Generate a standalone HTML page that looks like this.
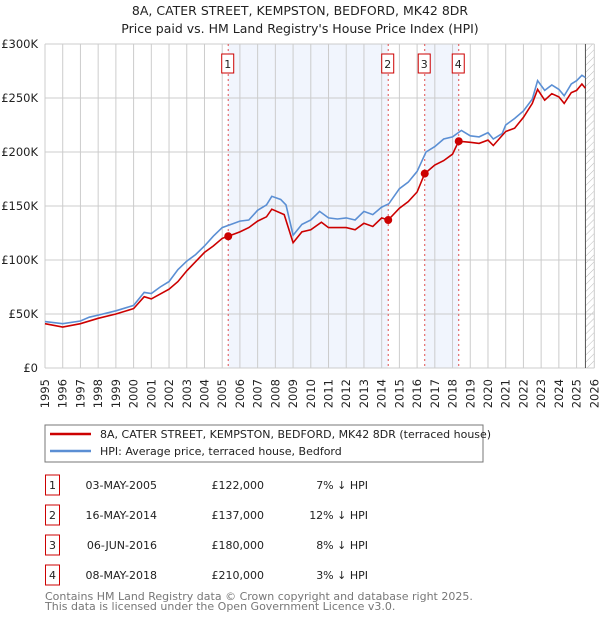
<!DOCTYPE html>
<html><head><meta charset="utf-8"><style>
body{margin:0;background:#fff;font-family:"Liberation Sans","DejaVu Sans",sans-serif;}
svg text{font-family:"DejaVu Sans","Liberation Sans",sans-serif;}
</style></head><body>
<svg id="chart" width="600" height="620" xmlns="http://www.w3.org/2000/svg">
<defs><pattern id="hatch" width="5" height="5" patternUnits="userSpaceOnUse" patternTransform="rotate(45)"><line x1="0" y1="0" x2="0" y2="5" stroke="#bbb" stroke-width="1"/></pattern></defs>
<text x="300" y="15" text-anchor="middle" font-size="12.5" fill="#222">8A, CATER STREET, KEMPSTON, BEDFORD, MK42 8DR</text>
<text x="300" y="33" text-anchor="middle" font-size="12.5" fill="#222">Price paid vs. HM Land Registry's House Price Index (HPI)</text>
<g id="plot"></g>
<rect x="45" y="425" width="438" height="37" fill="#fff" stroke="#777"/>
<line x1="50" y1="434" x2="91" y2="434" stroke="#cc0000" stroke-width="2.5"/>
<text x="100" y="438" font-size="11" fill="#222">8A, CATER STREET, KEMPSTON, BEDFORD, MK42 8DR (terraced house)</text>
<line x1="50" y1="451" x2="91" y2="451" stroke="#5b8fd4" stroke-width="2.5"/>
<text x="100" y="455" font-size="11" fill="#222">HPI: Average price, terraced house, Bedford</text>
<g id="table"></g>
<text x="45" y="600" font-size="11" fill="#777">Contains HM Land Registry data © Crown copyright and database right 2025.</text>
<text x="45" y="610" font-size="11" fill="#777">This data is licensed under the Open Government Licence v3.0.</text>
</svg>
<script>
const hpiYears=[1995,1996,1997,1997.5,1998,1999,2000,2000.6,2001,2001.5,2002,2002.5,2003,2003.5,2004,2004.5,2005,2005.5,2006,2006.5,2007,2007.5,2007.8,2008.3,2008.6,2009,2009.5,2010,2010.5,2011,2011.5,2012,2012.5,2013,2013.5,2014,2014.4,2015,2015.5,2016,2016.5,2017,2017.5,2018,2018.5,2019,2019.5,2020,2020.3,2020.8,2021,2021.5,2022,2022.5,2022.8,2023.2,2023.6,2024,2024.3,2024.7,2025,2025.3,2025.5];
const hpiValues=[43,41,43.5,47,49,53,58,70,69,75,80,91,99,105,113,122,130,133,136,137,146,151,159,156,151,123,133,137,145,139,138,139,137,145,142,149,152,166,172,182,200,205,212,214,220,215,214,218,212,217,225,231,238,249,266,257,262,258,252,263,266,271,269];
const ppYears=[1995,1996,1997,1998,1999,2000,2000.6,2001,2002,2002.5,2003,2004,2004.5,2005,2005.34,2006,2006.5,2007,2007.5,2007.8,2008.5,2009,2009.5,2010,2010.6,2011,2012,2012.5,2013,2013.5,2014,2014.37,2015,2015.5,2016,2016.43,2017,2017.5,2018,2018.35,2019,2019.5,2020,2020.3,2021,2021.5,2022,2022.5,2022.8,2023.2,2023.6,2024,2024.3,2024.7,2025,2025.3,2025.5];
const ppValues=[41,38,41,46,50,55,66,64,73,80,90,107,113,120,122,126,130,136,140,147,142,116,126,128,135,130,130,128,134,131,139,137,148,154,163,180,188,192,198,210,209,208,211,206,219,222,232,245,258,248,254,251,245,255,257,263,259];
const saleLabels=["1","2","3","4"];
const saleYears=[2005.34,2014.37,2016.43,2018.35];
const salePrices=[122,137,180,210];
const saleDates=["03-MAY-2005","16-MAY-2014","06-JUN-2016","08-MAY-2018"];
const salePriceText=["£122,000","£137,000","£180,000","£210,000"];
const saleHpiText=["7% ↓ HPI","12% ↓ HPI","8% ↓ HPI","3% ↓ HPI"];
const yTicks=[0,50,100,150,200,250,300];
const yTickLabels=["£0","£50K","£100K","£150K","£200K","£250K","£300K"];
const xTicks=[1995,1996,1997,1998,1999,2000,2001,2002,2003,2004,2005,2006,2007,2008,2009,2010,2011,2012,2013,2014,2015,2016,2017,2018,2019,2020,2021,2022,2023,2024,2025,2026];

const NS="http://www.w3.org/2000/svg";
const X0=45,X1=594.3,Y0=368,Y1=44;
const xs=y=>X0+(y-1995)/(2026-1995)*(X1-X0);
const ys=v=>Y0-v/300*(Y0-Y1);
const plot=document.getElementById('plot');
function mk(tag,attrs,parent){const e=document.createElementNS(NS,tag);for(const k in attrs)e.setAttribute(k,attrs[k]);(parent||plot).appendChild(e);return e;}
for(const [a,b] of [[0,1],[2,3]]){
 const r=mk('rect',{x:xs(saleYears[a]),y:Y1,width:xs(saleYears[b])-xs(saleYears[a]),height:Y0-Y1,fill:'#eef3fc',opacity:0.8});
 
 
}
const hx=xs(2025.5);
const h=mk('rect',{x:hx,y:Y1,width:X1-hx,height:Y0-Y1,fill:'url(#hatch)'});


xTicks.forEach((t,i)=>{
 const l=mk('line',{x1:xs(t),x2:xs(t),y1:Y1,y2:Y0,stroke:'#ccc','stroke-width':1});
 
 
 const px=xs(t)+4;
 const tx=mk('text',{x:px,y:379,'text-anchor':'end','font-size':11.5,fill:'#222',transform:'rotate(-90 '+px+' 379)'});
 tx.textContent=t;
 
 
});
yTicks.forEach((t,i)=>{
 const l=mk('line',{x1:X0,x2:X1,y1:ys(t),y2:ys(t),stroke:'#ccc','stroke-width':1});
 
 
 const tx=mk('text',{x:38,y:ys(t)+4,'text-anchor':'end','font-size':11.5,fill:'#222'});
 tx.textContent=yTickLabels[i];
 
 
});
mk('line',{x1:hx,x2:hx,y1:Y1,y2:Y0,stroke:'#555','stroke-width':1});
saleYears.forEach((y,i)=>{
 const l=mk('line',{x1:xs(y),x2:xs(y),y1:Y1,y2:Y0,stroke:'#e05050','stroke-width':1,'stroke-dasharray':'2,3'});
 
 
});
function path(xa,va,color,name){
 const d=xa.map((x,i)=>(i?'L':'M')+xs(x).toFixed(1)+','+ys(va[i]).toFixed(1)).join('');
 const p=mk('path',{d:d,fill:'none',stroke:color,'stroke-width':1.6});
 
 
}
path(hpiYears,hpiValues,'#5b8fd4','hpi-line');
path(ppYears,ppValues,'#cc0000','price-paid-line');
saleYears.forEach((y,i)=>{
 const c=mk('circle',{cx:xs(y),cy:ys(salePrices[i]),r:4,fill:'#cc0000'});
 
 
 const bx=mk('rect',{x:xs(y)-6.5,y:54,width:12,height:19,fill:'#fff',stroke:'#cc0000'});
 
 
 const t=mk('text',{x:xs(y)-0.5,y:68,'text-anchor':'middle','font-size':11,fill:'#222'});
 t.textContent=saleLabels[i];
 
 
});
const tb=document.getElementById('table');
saleLabels.forEach((s,i)=>{
 const y=473+i*30;
 const b=mk('rect',{x:45.5,y:y+2,width:14,height:20,fill:'#fff',stroke:'#cc0000'},tb);
 
 
 const vals=[[52.5,s,'middle'],[157,saleDates[i],'end'],[264,salePriceText[i],'end'],[368,saleHpiText[i],'end']];
 vals.forEach(v=>{
  const t=mk('text',{x:v[0],y:y+16,'text-anchor':v[2],'font-size':11,fill:'#222'},tb);
  t.textContent=v[1];
  
  
 });
});
</script>
</body></html>
